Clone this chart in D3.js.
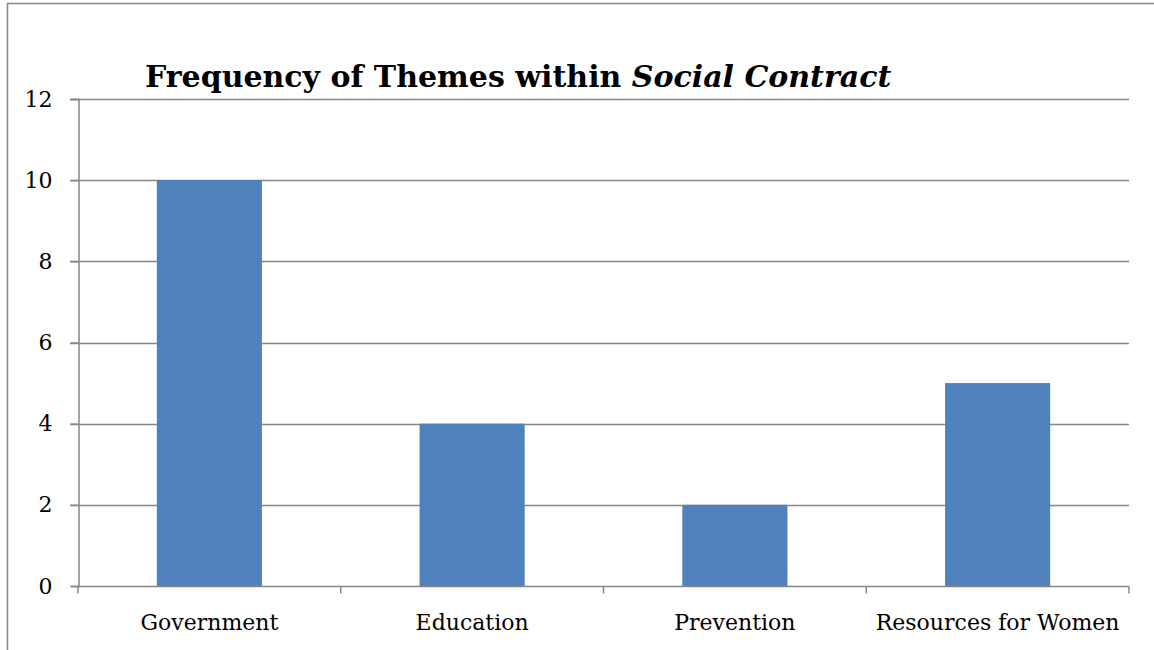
<!DOCTYPE html>
<html><head><meta charset="utf-8">
<script src="https://cdn.jsdelivr.net/npm/d3@7"></script>
<style>body{margin:0;background:#fff;} svg{display:block;}</style>
</head><body>
<svg id="chart" width="1154" height="650"></svg>
<script>
const categories = ["Government", "Education", "Prevention", "Resources for Women"];
const values = [10, 4, 2, 5];
const yTicks = [0, 2, 4, 6, 8, 10, 12];

const svg = d3.select("#chart");
const font = "'DejaVu Serif', serif";
const margin = {left: 78, right: 25, top: 99, bottom: 64};
const W = 1154, H = 650;

// outer frame
svg.append("line").attr("x1", 7.5).attr("x2", 7.5).attr("y1", 3.5).attr("y2", H).attr("stroke", "#888").attr("stroke-width", 1.5);
svg.append("line").attr("x1", 7).attr("x2", W).attr("y1", 3.5).attr("y2", 3.5).attr("stroke", "#888").attr("stroke-width", 1.5);

const x = d3.scaleBand().domain(categories).range([margin.left, W - margin.right]).paddingInner(0.6).paddingOuter(0.3);
const y = d3.scaleLinear().domain([0, 12]).range([H - margin.bottom, margin.top]);

// gridlines
svg.append("g").selectAll("line").data(yTicks.filter(d => d > 0)).join("line")
  .attr("x1", margin.left - 8).attr("x2", W - margin.right)
  .attr("y1", d => Math.round(y(d)) + 0.5).attr("y2", d => Math.round(y(d)) + 0.5)
  .attr("stroke", "#868686").attr("stroke-width", 1.5);

// bars
svg.append("g").selectAll("rect").data(values).join("rect")
  .attr("x", (d, i) => x(categories[i]))
  .attr("width", x.bandwidth())
  .attr("y", d => y(d))
  .attr("height", d => y(0) - y(d))
  .attr("fill", "#4F81BD");

// y axis
const yAxis = svg.append("g").attr("transform", `translate(${margin.left + 0.5},0)`)
  .call(d3.axisLeft(y).tickValues(yTicks).tickSize(8).tickPadding(18));
yAxis.select(".domain").attr("stroke", "#868686").attr("stroke-width", 1.5);
yAxis.selectAll(".tick line").attr("stroke", "#868686").attr("stroke-width", 1.5);
yAxis.selectAll("text").attr("font-family", font).attr("font-size", 22).attr("fill", "#000");

// x axis
const xOuter = d3.scaleBand().domain(categories).range([margin.left, W - margin.right]);
const xg = svg.append("g").attr("transform", `translate(0,${Math.round(y(0)) + 0.5})`);
xg.append("line").attr("x1", margin.left).attr("x2", W - margin.right).attr("stroke", "#868686").attr("stroke-width", 1.5);
const bounds = categories.map(c => xOuter(c)).concat([W - margin.right]);
xg.selectAll("line.tk").data(bounds).join("line").attr("class", "tk")
  .attr("x1", d => d).attr("x2", d => d).attr("y1", 0).attr("y2", 7)
  .attr("stroke", "#868686").attr("stroke-width", 1.5);
xg.selectAll("text").data(categories).join("text")
  .attr("x", d => xOuter(d) + xOuter.bandwidth() / 2)
  .attr("y", 43)
  .attr("text-anchor", "middle")
  .attr("font-family", font).attr("font-size", 22).attr("fill", "#000")
  .text(d => d);

// title
const title = svg.append("text").attr("x", 145).attr("y", 87)
  .attr("font-family", font).attr("font-size", 30).attr("font-weight", "bold").attr("fill", "#000");
title.append("tspan").text("Frequency of Themes within ");
title.append("tspan").attr("font-style", "italic").text("Social Contract");
</script>
</body></html>
